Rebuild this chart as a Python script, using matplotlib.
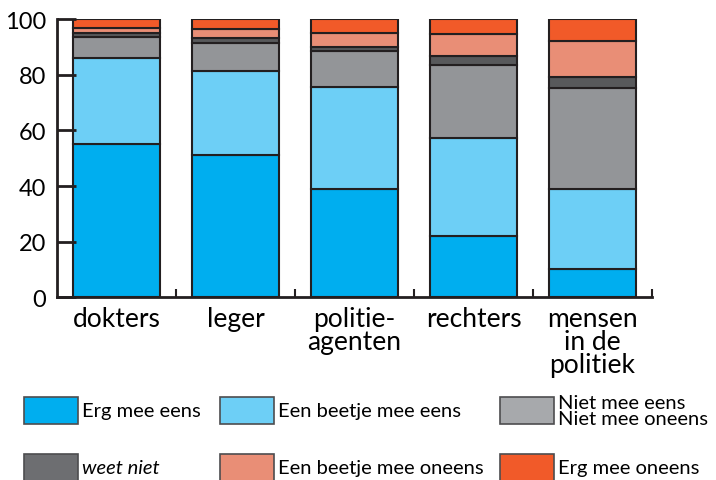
import numpy as np
import matplotlib.pyplot as plt
from matplotlib.patches import Rectangle

plt.rcParams['font.family'] = ['Lato', 'DejaVu Sans']

categories = ['dokters', 'leger', 'politie-\nagenten', 'rechters', 'mensen\nin de\npolitiek']
series = ['Erg mee eens', 'Een beetje mee eens', 'Niet mee eens\nNiet mee oneens',
          'weet niet', 'Een beetje mee oneens', 'Erg mee oneens']
erg_eens = [55, 51, 39, 22, 10]
beetje_eens = [31, 30.5, 36.5, 35.2, 28.8]
neutraal = [7.6, 10, 13, 26.3, 36.4]
weet_niet = [1.4, 1.9, 1.6, 3.4, 3.9]
beetje_oneens = [1.8, 3, 5, 7.8, 13.1]
erg_oneens = [3.2, 3.6, 4.9, 5.3, 7.8]
values = [erg_eens, beetje_eens, neutraal, weet_niet, beetje_oneens, erg_oneens]
colors = ['#00AEEF', '#6DCFF6', '#939598', '#58595B', '#E98E76', '#F15A29']
legend_colors = ['#00AEEF', '#6DCFF6', '#A7A9AC', '#6D6E71', '#E98E76', '#F15A29']

fig = plt.figure(figsize=(7.16, 4.81), dpi=100)
ax = fig.add_axes([0.0796, 0.38, 0.831, 0.578])

x = np.arange(len(categories))
bottom = np.zeros(len(categories))
for vals, col in zip(values, colors):
    ax.bar(x, vals, 0.73, bottom=bottom, color=col, edgecolor='#231F20', linewidth=1.5)
    bottom += np.array(vals)

ax.set_xlim(-0.5, 4.5)
ax.set_ylim(0, 100)
ax.set_yticks([0, 20, 40, 60, 80, 100])
ax.set_xticks(x)
ax.set_xticklabels(categories, fontsize=19, linespacing=0.92, va='top')
ax.set_xticks(x + 0.5, minor=True)
ax.tick_params(axis='x', which='major', length=0, pad=6)
ax.tick_params(axis='x', which='minor', direction='in', length=6, width=1.5, color='#231F20')
ax.tick_params(axis='y', labelsize=17, direction='in', length=14, width=2,
               pad=8, color='#231F20')
for s in ['top', 'right']:
    ax.spines[s].set_visible(False)
for s in ['left', 'bottom']:
    ax.spines[s].set_linewidth(2)
    ax.spines[s].set_color('#231F20')

# legend
W, H = 716, 481
box_x = [24, 220, 500]
box_y = [398, 455]
for i, (lab, col) in enumerate(zip(series, legend_colors)):
    r, c = divmod(i, 3)
    bx, by = box_x[c], box_y[r]
    fig.patches.append(Rectangle((bx / W, 1 - (by + 27) / H), 54 / W, 27 / H,
                                 transform=fig.transFigure, facecolor=col,
                                 edgecolor='#4D4D4F', linewidth=1.2))
    fig.text((bx + 58) / W, 1 - (by + 13.5) / H, lab, fontsize=14.5, va='center',
             ha='left', linespacing=0.95,
             style='italic' if lab == 'weet niet' else 'normal')

fig.savefig('out.png', dpi=100)
